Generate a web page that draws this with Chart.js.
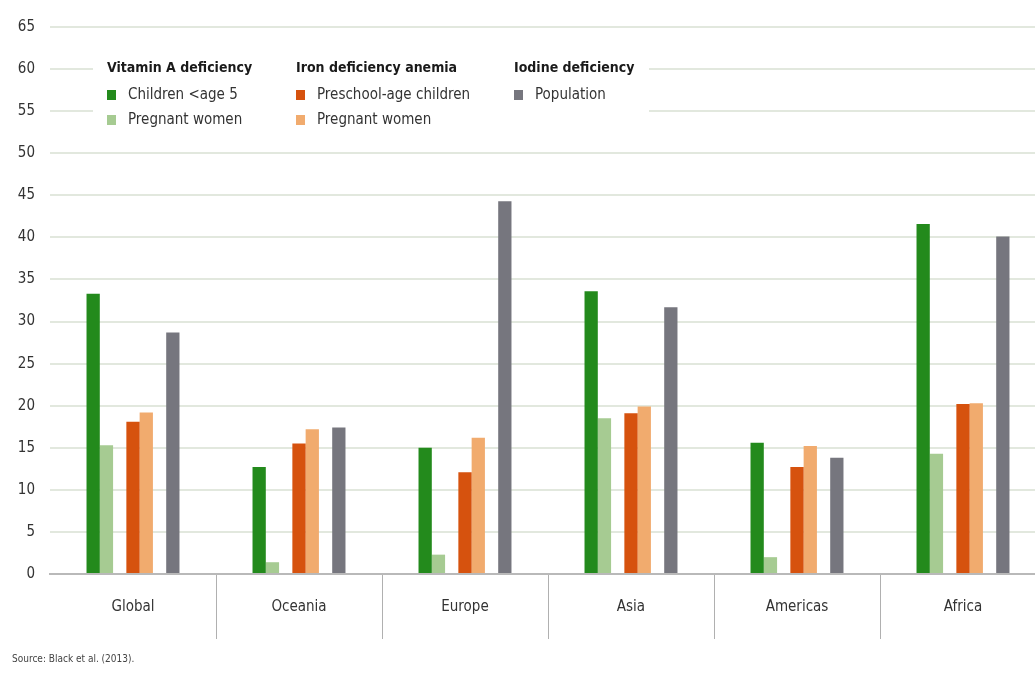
<!DOCTYPE html>
<html>
<head>
<meta charset="utf-8">
<script src="https://cdn.jsdelivr.net/npm/chart.js@4/dist/chart.umd.min.js"></script>
<style>
    html, body { margin: 0; padding: 0; background: #ffffff; overflow: hidden; }
    #wrap { width: 1047px; height: 673px; position: relative; }
</style>
</head>
<body>
<div id="wrap"><canvas id="chart"></canvas></div>
<script>
// Regions on the x axis
const categories = ["Global", "Oceania", "Europe", "Asia", "Americas", "Africa"];

// Prevalence (%)
const vitAChildren = [33.3, 12.7, 15.0, 33.6, 15.6, 41.6];
const vitAPregnant = [15.3, 1.4, 2.3, 18.5, 2.0, 14.3];
const ironChildren = [18.1, 15.5, 12.1, 19.1, 12.7, 20.2];
const ironPregnant = [19.2, 17.2, 16.2, 19.9, 15.2, 20.3];
const iodinePopulation = [28.7, 17.4, 44.3, 31.7, 13.8, 40.1];

// Y axis ticks
const yMin = 0;
const yMax = 65;
const yStep = 5;

// Legend groups and their series labels
const legendGroups = ["Vitamin A deficiency", "Iron deficiency anemia", "Iodine deficiency"];
const seriesLabels = ["Children <age 5", "Pregnant women", "Preschool-age children", "Pregnant women", "Population"];
const sourceNote = "Source: Black et al. (2013).";

const colors = ["#238a1c", "#a6cb92", "#d6520e", "#f1ab6e", "#76767e"];
const fontFamily = "'Liberation Sans Narrow', 'DejaVu Sans Condensed', 'Arial Narrow', sans-serif";

// Empty slot used to leave a gap between the bar pairs
const spacer = () => ({ label: "", data: categories.map(() => null), backgroundColor: "transparent" });

function bars(i, values) {
    return { label: seriesLabels[i], data: values, backgroundColor: colors[i], legendGroup: i };
}

const datasets = [
    bars(0, vitAChildren),
    bars(1, vitAPregnant),
    spacer(),
    bars(2, ironChildren),
    bars(3, ironPregnant),
    spacer(),
    bars(4, iodinePopulation)
];

// Which series sit under which legend heading
const groupMembers = [[0, 1], [2, 3], [4]];

// Draws the three-column legend with a white box behind it
const groupLegend = {
    id: "groupLegend",
    afterDraw(chart) {
        const ctx = chart.ctx;
        ctx.save();
        ctx.fillStyle = "#ffffff";
        ctx.fillRect(93, 56, 556, 76);
        const colX = [107, 296, 514];
        ctx.textBaseline = "middle";
        ctx.textAlign = "left";
        legendGroups.forEach((title, g) => {
            ctx.fillStyle = "#1a1a1a";
            ctx.font = "bold 14px " + fontFamily;
            ctx.fillText(title, colX[g], 68);
            groupMembers[g].forEach((s, row) => {
                const y = 95 + row * 25;
                ctx.fillStyle = colors[s];
                ctx.fillRect(colX[g], y - 5, 9, 10);
                ctx.fillStyle = "#333333";
                ctx.font = "15px " + fontFamily;
                ctx.fillText(seriesLabels[s], colX[g] + 21, y);
            });
        });
        ctx.restore();
    }
};

const ctx = document.getElementById("chart").getContext("2d");
new Chart(ctx, {
    type: "bar",
    data: { labels: categories, datasets: datasets },
    options: {
        responsive: true,
        maintainAspectRatio: false,
        animation: false,
        layout: { padding: { left: 12, top: 27, right: 1, bottom: 0 } },
        datasets: { bar: { categoryPercentage: 0.56, barPercentage: 1.0 } },
        plugins: {
            legend: { display: false },
            tooltip: { enabled: false },
            title: {
                display: true,
                text: sourceNote,
                position: "bottom",
                align: "start",
                color: "#444444",
                font: { family: fontFamily, size: 10, weight: "normal" },
                padding: { top: 0, bottom: 8 }
            }
        },
        scales: {
            x: {
                grid: {
                    offset: true,
                    drawOnChartArea: false,
                    drawTicks: true,
                    tickLength: 65,
                    color: (c) => (c.index === 0 ? "transparent" : "#b0b0b0"),
                    lineWidth: 1
                },
                border: { display: true, color: "#b9b9b9", width: 2 },
                ticks: {
                    color: "#333333",
                    font: { family: fontFamily, size: 15 },
                    padding: -41,
                    maxRotation: 0
                },
                afterFit(scale) { scale.height = 79; }
            },
            y: {
                min: yMin,
                max: yMax,
                ticks: {
                    stepSize: yStep,
                    color: "#333333",
                    font: { family: fontFamily, size: 15 },
                    padding: 15
                },
                grid: { color: "#e2e8de", lineWidth: 2, drawTicks: false },
                border: { display: false },
                afterFit(scale) { scale.width = 38; }
            }
        }
    },
    plugins: [groupLegend]
});
</script>
</body>
</html>
